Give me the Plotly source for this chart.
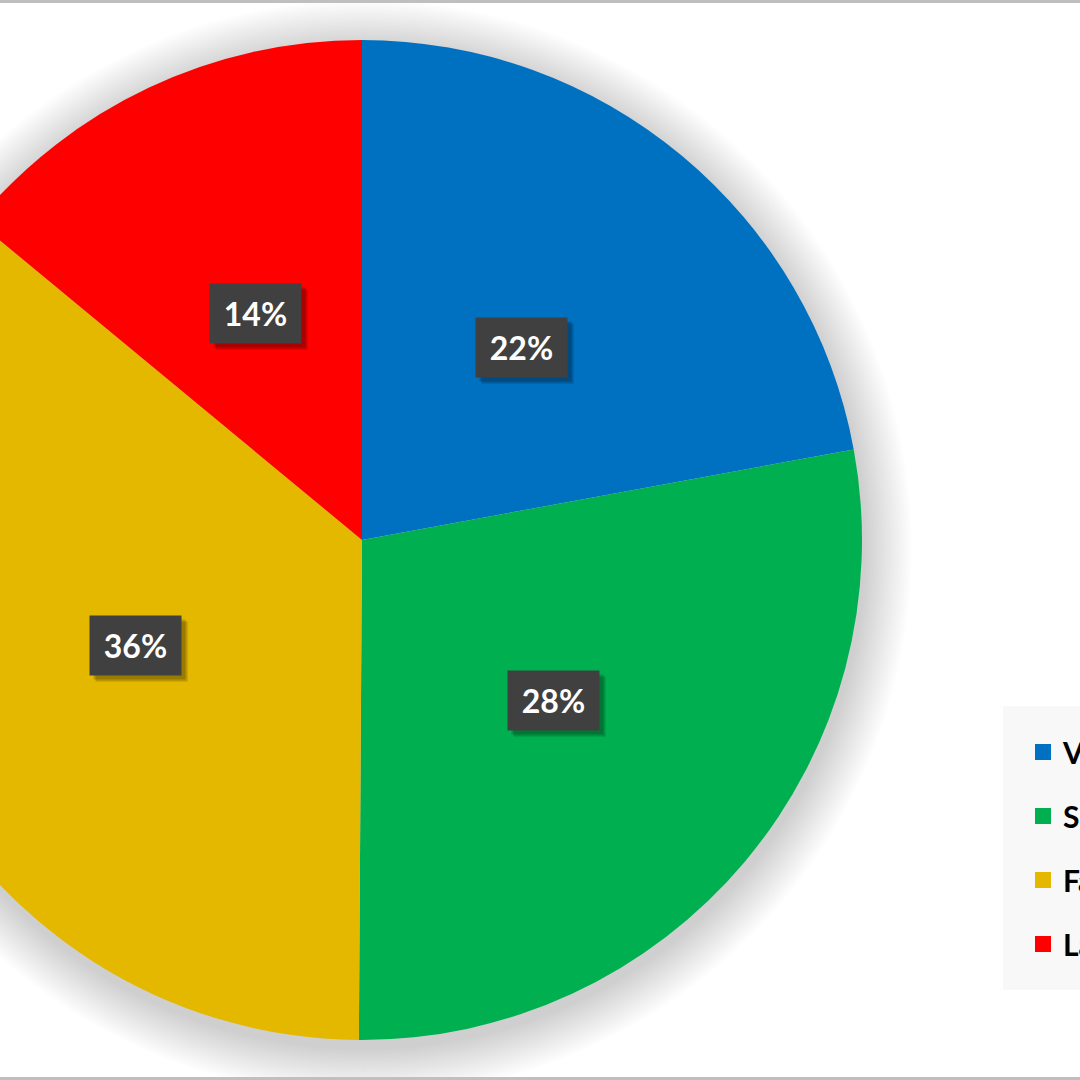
import math
import plotly.graph_objects as go

# ---- data ----
categories = ["Vehicles", "Supplies", "Facilities", "Labor"]
values = [22.1, 28.0, 35.9, 14.0]
colors = ["#0070C0", "#00B050", "#E5B800", "#FF0000"]

# ---- geometry (figure is wider than the viewport and shifted left) ----
W, H = 1400, 1080
SHIFT = 138
CX, CY, R = 500, 540, 500  # pie centre / radius in figure pixels

fig = go.Figure()

fig.add_trace(go.Pie(
    labels=categories, values=values,
    marker=dict(colors=colors, line=dict(width=0)),
    sort=False, direction="clockwise", rotation=0,
    textinfo="none", hoverinfo="none", showlegend=False,
    domain=dict(x=[(CX - R) / W, (CX + R) / W], y=[1 - (CY + R) / H, 1 - (CY - R) / H]),
))

# legend entries (square markers)
for name, col in zip(categories, colors):
    fig.add_trace(go.Scatter(
        x=[None], y=[None], mode="markers", name=name,
        marker=dict(symbol="square", size=20, color=col),
        legendgroup=name, hoverinfo="skip",
    ))

# soft shadow under the pie
shapes = []
N = 24
for i in range(N):
    rr = R + 2 + i * 2
    sx, sy = CX + 2, CY + 8
    shapes.append(dict(
        type="circle", xref="paper", yref="paper", layer="below",
        x0=(sx - rr) / W, x1=(sx + rr) / W, y0=1 - (sy + rr) / H, y1=1 - (sy - rr) / H,
        fillcolor="rgba(0,0,0,0.0065)", line=dict(width=0),
    ))
# chart-area border (top and bottom visible)
for yy in (1.5, 1078.5):
    shapes.append(dict(type="line", xref="paper", yref="paper",
                       x0=0, x1=1, y0=1 - yy / H, y1=1 - yy / H,
                       line=dict(color="#BFBFBF", width=3)))

# data labels in dark boxes at half radius of each slice's mid angle
total = sum(values)
annotations = []
cum = 0.0
for v in values:
    mid = (cum + v / 2) / total * 2 * math.pi
    cum += v
    px = CX + 0.5 * R * math.sin(mid)
    py = CY - 0.5 * R * math.cos(mid)
    txt = f"{round(v / total * 100)}%"
    common = dict(x=px / W, y=1 - py / H, xref="paper", yref="paper",
                  xanchor="center", yanchor="middle",
                  showarrow=False, width=89, height=57, align="center", valign="middle")
    for sh in (6, 4):
        annotations.append(dict(text=" ", bgcolor="rgba(0,0,0,0.18)", xshift=sh, yshift=-sh,
                                font=dict(family="Lato", size=32), **common))
    annotations.append(dict(text=txt, bgcolor="#404040",
                            font=dict(family="Lato", size=32, color="white", weight="bold"),
                            **common))

fig.update_layout(
    width=W, height=H,
    margin=dict(l=0, r=0, t=0, b=0, autoexpand=False),
    paper_bgcolor="white", plot_bgcolor="rgba(0,0,0,0)",
    xaxis=dict(visible=False), yaxis=dict(visible=False),
    showlegend=True,
    legend=dict(
        x=(1003 + SHIFT) / W, y=1 - 706 / H, xanchor="left", yanchor="top",
        bgcolor="#F8F8F8", bordercolor="#F8F8F8", borderwidth=20,
        font=dict(family="Lato", size=30, color="black", weight="bold"),
        traceorder="grouped", tracegroupgap=22,
    ),
    shapes=shapes, annotations=annotations,
    hovermode=False,
)

post = (
    "document.body.style.margin='0';"
    "document.body.style.overflow='hidden';"
    f"var d=document.getElementById('{{plot_id}}'); d.style.marginLeft='-{SHIFT}px';"
)
fig.write_html("out.html", post_script=post, config={"displayModeBar": False})
